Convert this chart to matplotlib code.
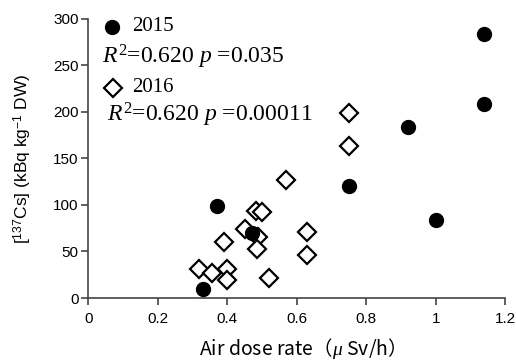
import matplotlib.pyplot as plt

# 2015 survey (filled circles)
x2015 = [0.33, 0.37, 0.47, 0.75, 0.92, 1.00, 1.14, 1.14]
y2015 = [10, 99, 70, 120, 184, 84, 284, 208]

# 2016 survey (open diamonds)
x2016 = [0.32, 0.355, 0.40, 0.40, 0.39, 0.45, 0.483, 0.50, 0.49, 0.486,
         0.52, 0.57, 0.63, 0.63, 0.75, 0.75]
y2016 = [31, 27, 31, 19, 60, 74, 93, 92, 66, 53,
         22, 127, 71, 46, 199, 163]

xticks = [0, 0.2, 0.4, 0.6, 0.8, 1, 1.2]
xticklabels = ['0', '0.2', '0.4', '0.6', '0.8', '1', '1.2']
yticks = [0, 50, 100, 150, 200, 250, 300]

plt.rcParams['font.family'] = ['Liberation Sans', 'DejaVu Sans']
plt.rcParams['mathtext.fontset'] = 'custom'
plt.rcParams['mathtext.rm'] = 'Liberation Serif'
plt.rcParams['mathtext.it'] = 'Liberation Serif:italic'
plt.rcParams['mathtext.sf'] = 'Liberation Sans'

fig = plt.figure(figsize=(5.16, 3.63), dpi=100)
ax = fig.add_axes([0.171, 0.179, 0.808, 0.769])

ax.plot(x2016, y2016, linestyle='none', marker='D', markersize=9.5,
        markerfacecolor='white', markeredgecolor='black', markeredgewidth=1.6,
        clip_on=False, zorder=3)
ax.plot(x2015, y2015, linestyle='none', marker='o', markersize=10,
        color='black', clip_on=False, zorder=4)

ax.set_xlim(0, 1.2)
ax.set_ylim(0, 300)
ax.set_xticks(xticks)
ax.set_xticklabels(xticklabels)
ax.set_yticks(yticks)

for side in ['top', 'right']:
    ax.spines[side].set_visible(False)
for side in ['left', 'bottom']:
    ax.spines[side].set_color('#444444')
    ax.spines[side].set_linewidth(1.2)
ax.tick_params(direction='out', length=5, width=1.2, color='#444444',
               labelsize=11)
ax.tick_params(axis='x', pad=5)
ax.tick_params(axis='y', pad=2)

ax.set_ylabel(r'[$^{\mathsf{137}}$Cs] (kBq kg$^{\mathsf{-1}}$ DW)',
              fontsize=12.5, labelpad=14)
ax.set_xlabel('Air dose rate（$\\mu$ Sv/h）', fontsize=14, labelpad=7,
              family='Noto Sans CJK JP')

# legend-like annotations in the upper left
serif = ['Liberation Serif', 'DejaVu Serif']
ax.plot([0.058], [0.971], transform=ax.transAxes, marker='o', markersize=10,
        color='black', clip_on=False)
ax.text(0.106, 0.971, '2015', transform=ax.transAxes, fontsize=15,
        family=serif, va='center')
ax.text(0.034, 0.864, r'$R^{2}$=0.620 $p$ =0.035',
        transform=ax.transAxes, fontsize=17, family=serif, va='center')
ax.plot([0.06], [0.753], transform=ax.transAxes, marker='D', markersize=9.5,
        markerfacecolor='white', markeredgecolor='black', markeredgewidth=1.6,
        clip_on=False)
ax.text(0.106, 0.753, '2016', transform=ax.transAxes, fontsize=15,
        family=serif, va='center')
ax.text(0.046, 0.656, r'$R^{2}$=0.620 $p$ =0.00011',
        transform=ax.transAxes, fontsize=17, family=serif, va='center')

fig.savefig('out.png', dpi=100)
